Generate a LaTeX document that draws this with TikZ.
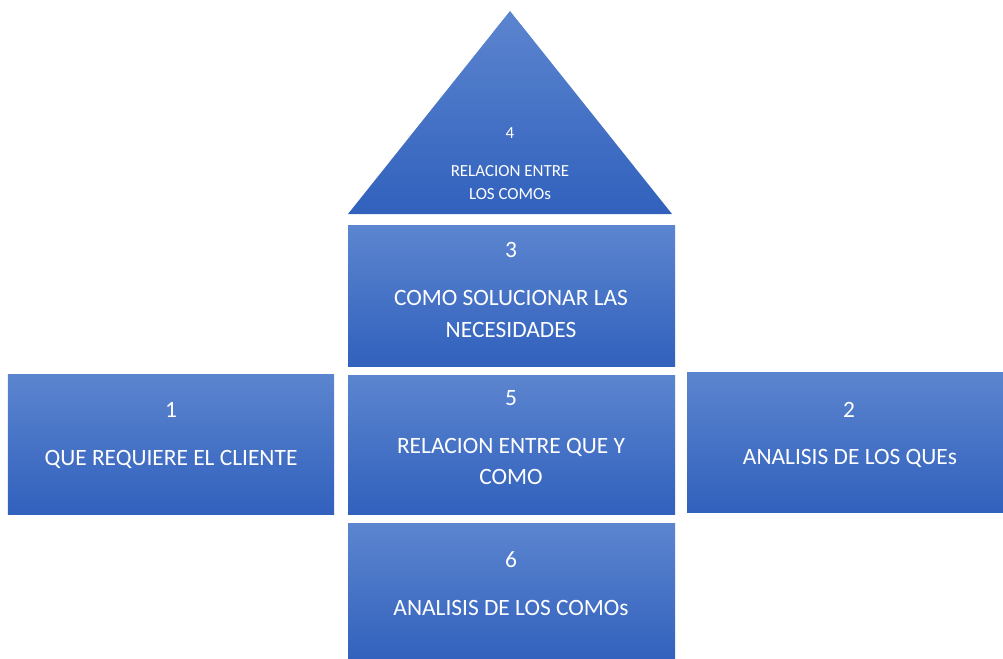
\documentclass[tikz,border=0pt]{standalone}
\usepackage{fontspec}
\setmainfont{Carlito}
\definecolor{topc}{HTML}{5C85CF}
\definecolor{botc}{HTML}{3161BD}
\tikzset{
  blk/.style={rectangle, inner sep=0pt, top color=topc, bottom color=botc, draw=none},
  num/.style={text=white, inner sep=0pt, font=\fontsize{23.5}{32}\selectfont},
  lbl/.style={text=white, inner sep=0pt, align=center, font=\fontsize{23.5}{32}\selectfont},
  tnum/.style={text=white, inner sep=0pt, font=\fontsize{17}{23}\selectfont},
  tlbl/.style={text=white, inner sep=0pt, align=center, font=\fontsize{17}{23}\selectfont}
}
\begin{document}
\begin{tikzpicture}[x=1bp,y=-1bp]
\useasboundingbox (0,0) rectangle (1003,659);
% roof
\coordinate (tl) at (348,214);
\coordinate (tt) at (510,11);
\coordinate (tr) at (672,214);
\shade[top color=topc, bottom color=botc] (tl) -- (tt) -- (tr) -- cycle;
\node[tnum] (n4) at (510,133) {4};
\node[tlbl] (t4) at (510,182.5) {RELACION ENTRE\\LOS COMOs};
% boxes
\node[blk, minimum width=327bp, minimum height=140bp] (b3) at (511.5,296) {};
\node[blk, minimum width=327bp, minimum height=139bp] (b5) at (511.5,444.5) {};
\node[blk, minimum width=327bp, minimum height=140bp] (b6) at (511.5,593) {};
\node[blk, minimum width=326bp, minimum height=140bp] (b1) at (171,444) {};
\node[blk, minimum width=317bp, minimum height=140bp] (b2) at (845.5,442) {};
% texts
\node[num] (n3) at (511,250) {3};
\node[lbl] (t3) at (511,314) {COMO SOLUCIONAR LAS\\NECESIDADES};
\node[num] (n5) at (511,398) {5};
\node[lbl] (t5) at (511,461.5) {RELACION ENTRE QUE Y\\COMO};
\node[num] (n6) at (511,560) {6};
\node[lbl] (t6) at (511,608) {ANALISIS DE LOS COMOs};
\node[num] (n1) at (171,410) {1};
\node[lbl] (t1) at (171,459) {QUE REQUIERE EL CLIENTE};
\node[num] (n2) at (849,410) {2};
\node[lbl] (t2) at (850,458) {ANALISIS DE LOS QUEs};
\end{tikzpicture}
\end{document}
